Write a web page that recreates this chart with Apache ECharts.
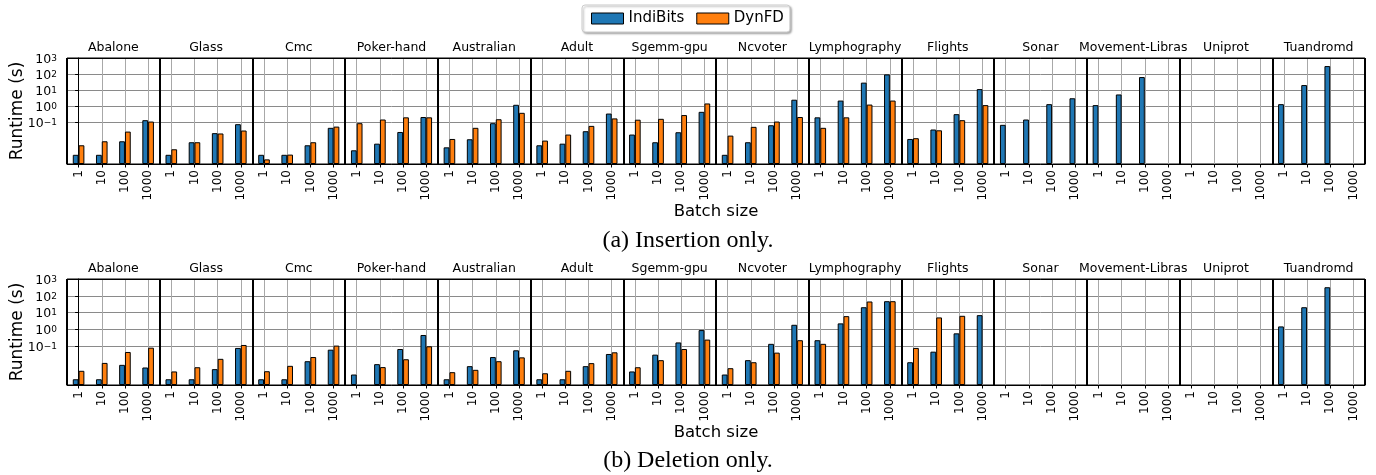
<!DOCTYPE html>
<html><head><meta charset="utf-8">
<script src="https://cdn.jsdelivr.net/npm/echarts@6/dist/echarts.min.js"></script>
<style>html,body{margin:0;padding:0;background:#fff}#c{width:1376px;height:475px}</style>
</head><body><div id="c"></div>
<script>
// ---------------- data ----------------
const datasets = ['Abalone','Glass','Cmc','Poker-hand','Australian','Adult','Sgemm-gpu','Ncvoter','Lymphography','Flights','Sonar','Movement-Libras','Uniprot','Tuandromd'];
const batchSizes = ['1','10','100','1000'];
const yTickValues = [0.1, 1, 10, 100, 1000];
const seriesNames = ['IndiBits', 'DynFD'];
const captions = ['(a) Insertion only.', '(b) Deletion only.'];

// runtime (s), per dataset: batch 1, 10, 100, 1000
const insertionIndiBits = [
  0.001, 0.001, 0.0069, 0.14,     // Abalone
  0.001, 0.006, 0.022, 0.079,     // Glass
  0.001, 0.001, 0.0039, 0.047,    // Cmc
  0.0019, 0.0049, 0.026, 0.22,    // Poker-hand
  0.0029, 0.0092, 0.091, 1.26,    // Australian
  0.0039, 0.0049, 0.029, 0.36,    // Adult
  0.018, 0.006, 0.025, 0.46,      // Sgemm-gpu
  0.001, 0.006, 0.068, 2.6,       // Ncvoter
  0.21, 2.3, 29.7, 96,            // Lymphography
  0.0096, 0.037, 0.33, 11.8,      // Flights
  0.072, 0.154, 1.38, 3.2,        // Sonar
  1.2, 5.5, 66, null,             // Movement-Libras
  null, null, null, null,         // Uniprot
  1.38, 21, 316, null             // Tuandromd
];
const insertionDynFD = [
  0.0039, 0.0069, 0.0275, 0.115,
  0.0022, 0.006, 0.021, 0.032,
  0.00052, 0.00103, 0.006, 0.056,
  0.091, 0.154, 0.21, 0.21,
  0.0096, 0.047, 0.16, 0.40,
  0.0076, 0.018, 0.062, 0.18,
  0.15, 0.17, 0.29, 1.52,
  0.0155, 0.054, 0.115, 0.22,
  0.047, 0.21, 1.3, 2.3,
  0.0107, 0.033, 0.14, 1.2,
  null, null, null, null,
  null, null, null, null,
  null, null, null, null,
  null, null, null, null
];
const deletionIndiBits = [
  0.0011, 0.0011, 0.0079, 0.0055,
  0.0011, 0.0011, 0.0044, 0.080,
  0.0011, 0.0011, 0.013, 0.063,
  0.0021, 0.0087, 0.069, 0.47,
  0.0011, 0.0066, 0.023, 0.058,
  0.0011, 0.0011, 0.0066, 0.035,
  0.0032, 0.032, 0.17, 0.92,
  0.0021, 0.015, 0.14, 1.9,
  0.23, 2.3, 21, 48,
  0.0113, 0.048, 0.59, 7.1,
  null, null, null, null,
  null, null, null, null,
  null, null, null, null,
  1.52, 21, 324, null
];
const deletionDynFD = [
  0.0035, 0.0103, 0.046, 0.083,
  0.0032, 0.0057, 0.018, 0.12,
  0.0033, 0.0069, 0.023, 0.11,
  null, 0.0058, 0.017, 0.10,
  0.0029, 0.004, 0.013, 0.022,
  0.0025, 0.0035, 0.010, 0.044,
  0.0057, 0.015, 0.069, 0.25,
  0.005, 0.0113, 0.042, 0.23,
  0.14, 6.2, 46, 48,
  0.08, 5.2, 6.5, null,
  null, null, null, null,
  null, null, null, null,
  null, null, null, null,
  null, null, null, null
];

// ---------------- chart ----------------
const FONT = 'DejaVu Sans';
const colors = ['#1f77b4', '#ff7f0e'];
const categories = [];
datasets.forEach(d => batchSizes.forEach(b => categories.push(d + '|' + b)));
const centerIdx = categories.map((_, i) => i);

const panels = [
  {top: 58, yMin: Math.pow(10, -3.57), indi: insertionIndiBits, dyn: insertionDynFD},
  {top: 279, yMin: Math.pow(10, -3.3), indi: deletionIndiBits, dyn: deletionDynFD}
];

const grid = [], xAxis = [], yAxis = [], series = [];
panels.forEach((p, gi) => {
  grid.push({left: 67, right: 11, top: p.top, height: 106, show: true, borderColor: '#000', borderWidth: 1,
    backgroundColor: 'transparent', containLabel: false, outerBoundsMode: 'none'});
  // main batch-size axis
  xAxis.push({
    type: 'category', gridIndex: gi, data: categories, position: 'bottom',
    axisLine: {show: true, lineStyle: {color: '#000', width: 1}},
    axisTick: {show: true, alignWithLabel: true, length: 3.5, interval: 0, lineStyle: {color: '#000'}},
    axisLabel: {interval: 0, rotate: 90, margin: 6, fontSize: 12, color: '#000', fontFamily: FONT,
      formatter: v => v.split('|')[1]},
    splitLine: {show: false},
    name: 'Batch size', nameLocation: 'middle', nameGap: 39, nameMoveOverlap: false,
    nameTextStyle: {fontSize: 16.5, color: '#000', fontFamily: FONT}
  });
  // center grid lines
  xAxis.push({
    type: 'value', gridIndex: gi, min: -0.5, max: categories.length - 0.5, position: 'bottom',
    axisLine: {show: false}, axisLabel: {show: false},
    axisTick: {show: false, customValues: centerIdx},
    splitLine: {show: true, lineStyle: {color: '#a8a8a8', width: 1}}
  });
  // dataset names on top + group separators
  xAxis.push({
    type: 'category', gridIndex: gi, data: datasets, position: 'top', z: 3,
    axisLine: {show: true, lineStyle: {color: '#000', width: 1}},
    axisTick: {show: false},
    axisLabel: {interval: 0, margin: 4, fontSize: 12.5, color: '#000', fontFamily: FONT, hideOverlap: false},
    splitLine: {show: true, interval: 0, lineStyle: {color: '#000', width: 2}}
  });
  yAxis.push({
    type: 'log', logBase: 10, gridIndex: gi, min: p.yMin, max: 1000, startValue: p.yMin,
    axisLine: {show: true, lineStyle: {color: '#000'}},
    axisTick: {show: true, length: 3.5, customValues: yTickValues, lineStyle: {color: '#000'}},
    axisLabel: {customValues: yTickValues, margin: 10, color: '#000', fontFamily: FONT, padding: [4, 0, 0, 0],
      formatter: v => {
        const e = Math.round(Math.log10(v));
        return '{b|10}{s|' + (e < 0 ? '\u2212' + (-e) : e) + '}';
      },
      rich: {
        b: {fontSize: 12.5, lineHeight: 12, verticalAlign: 'bottom', fontFamily: FONT, color: '#000'},
        s: {fontSize: 9, lineHeight: 9, padding: [0, 0, 5, 0], verticalAlign: 'top', fontFamily: FONT, color: '#000'}
      }
    },
    splitLine: {show: true, lineStyle: {color: '#8a8a8a', width: 1}},
    name: 'Runtime (s)', nameLocation: 'middle', nameGap: 41, nameMoveOverlap: false,
    nameTextStyle: {fontSize: 17, color: '#000', fontFamily: FONT}
  });
  [p.indi, p.dyn].forEach((vals, si) => {
    series.push({
      type: 'bar', name: seriesNames[si], xAxisIndex: gi * 3, yAxisIndex: gi,
      data: vals, barWidth: '25%', barGap: '0%',
      itemStyle: {color: colors[si], borderColor: '#000', borderWidth: 1},
      emphasis: {disabled: true}
    });
  });
});

const chart = echarts.init(document.getElementById('c'), null, {renderer: 'canvas'});
chart.setOption({
  animation: false,
  backgroundColor: '#fff',
  textStyle: {fontFamily: FONT},
  title: captions.map((t, i) => ({
    text: t, left: 'center', top: i === 0 ? 229 : 449, padding: 0,
    textStyle: {fontFamily: 'Liberation Serif', fontSize: 24, fontWeight: 'normal', color: '#000'}
  })),
  legend: {
    data: seriesNames, top: 5, left: 582, icon: 'rect', itemWidth: 32, itemHeight: 11, itemGap: 12,
    padding: [6, 6, 6, 9], borderColor: '#cccccc', borderWidth: 1, borderRadius: 3,
    backgroundColor: '#fff', shadowColor: 'rgba(0,0,0,0.3)', shadowBlur: 2, shadowOffsetX: 1.5, shadowOffsetY: 1.5,
    textStyle: {fontSize: 15, color: '#000', fontFamily: FONT},
    itemStyle: {borderColor: '#000', borderWidth: 1}
  },
  grid, xAxis, yAxis, series
});
</script></body></html>
